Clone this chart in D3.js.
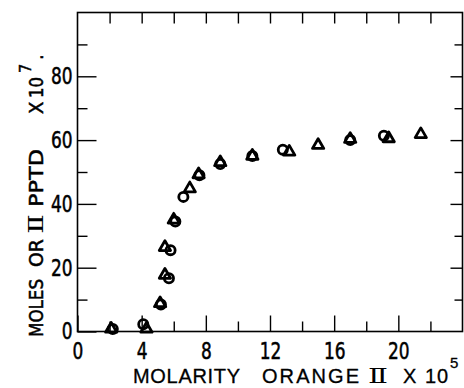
<!DOCTYPE html>
<html><head><meta charset="utf-8">
<script src="https://cdn.jsdelivr.net/npm/d3@7"></script>
<style>
body{margin:0;background:#fff;}
svg{display:block;}
.tick text{font-family:"DejaVu Sans Condensed","DejaVu Sans",sans-serif;font-size:23px;fill:#000;stroke:#000;stroke-width:0.5px;}
</style></head>
<body><svg id="c" width="464" height="388"></svg>
<script>
// Data
const circleX = [2.2, 4.1, 5.2, 5.7, 5.8, 6.1, 6.6, 7.6, 8.9, 10.9, 12.8, 17.0, 19.1];
const circleY = [0.8, 2.3, 8.5, 16.7, 25.5, 34.5, 42.2, 49.0, 52.5, 55.0, 57.0, 60.0, 61.4];
const triX = [2.1, 4.3, 5.15, 5.45, 5.45, 6.0, 7.0, 7.55, 8.9, 10.9, 13.2, 15.0, 17.0, 19.4, 21.4];
const triY = [0.8, 0.8, 8.8, 17.7, 26.4, 35.0, 44.8, 49.2, 53.0, 55.0, 56.3, 58.4, 60.3, 60.5, 61.8];
const xMajor = [0, 4, 8, 12, 16, 20];
const xMinor = [2, 6, 10, 14, 18, 22];
const yMajor = [0, 20, 40, 60, 80];
const yMinor = [10, 30, 50, 70, 90];

const svg = d3.select("#c");
const L = 77.5, R = 462.5, T = 12.5, B = 331.5;
const x = d3.scaleLinear().domain([0, 24]).range([L, R]);
const y = d3.scaleLinear().domain([0, 100]).range([B, T]);
const SX = 0.82;

function style(g){
  g.select(".domain").remove();
  g.selectAll(".tick line").attr("stroke","#000").attr("stroke-width",1.4);
  g.selectAll(".tick text").each(function(){
    const t = d3.select(this);
    const xv = +t.attr("x") || 0;
    t.attr("x", xv/SX).attr("transform", `scale(${SX},1)`);
  });
}

// bottom axis
svg.append("g").attr("transform",`translate(0,${B})`)
  .call(d3.axisBottom(x).tickValues(xMajor).tickSize(-16).tickPadding(11).tickFormat(d3.format("d"))).call(style);
svg.append("g").attr("transform",`translate(0,${B})`)
  .call(d3.axisBottom(x).tickValues(xMinor).tickSize(-10).tickFormat("")).call(style);
// top axis
svg.append("g").attr("transform",`translate(0,${T})`)
  .call(d3.axisTop(x).tickValues(xMajor.concat(xMinor).filter(v=>v>0)).tickSize(-11).tickFormat("")).call(style);
// left axis
svg.append("g").attr("transform",`translate(${L},0)`)
  .call(d3.axisLeft(y).tickValues(yMajor).tickSize(-19).tickPadding(5).tickFormat(d3.format("d"))).call(style);
svg.append("g").attr("transform",`translate(${L},0)`)
  .call(d3.axisLeft(y).tickValues(yMinor).tickSize(-10).tickFormat("")).call(style);
// right axis
svg.append("g").attr("transform",`translate(${R},0)`)
  .call(d3.axisRight(y).tickValues(yMajor.filter(v=>v>0)).tickSize(-12).tickFormat("")).call(style);
svg.append("g").attr("transform",`translate(${R},0)`)
  .call(d3.axisRight(y).tickValues(yMinor).tickSize(-8).tickFormat("")).call(style);

// frame
svg.append("rect").attr("x",L).attr("y",T).attr("width",R-L).attr("height",B-T)
  .attr("fill","none").attr("stroke","#000").attr("stroke-width",1.6);

// markers
const tri = d3.symbol().type(d3.symbolTriangle).size(55);
svg.append("g").selectAll("path").data(triX.map((v,i)=>[v,triY[i]])).join("path")
  .attr("d", tri).attr("transform", d=>`translate(${x(d[0])},${y(d[1])})`)
  .attr("fill","none").attr("stroke","#000").attr("stroke-width",2.8).attr("stroke-linejoin","round");
svg.append("g").selectAll("circle").data(circleX.map((v,i)=>[v,circleY[i]])).join("circle")
  .attr("cx", d=>x(d[0])).attr("cy", d=>y(d[1])).attr("r",4.6)
  .attr("fill","none").attr("stroke","#000").attr("stroke-width",2.8);

// x title
const xt = svg.append("g").attr("font-family","'Liberation Sans','DejaVu Sans',sans-serif").attr("font-size",20).attr("fill","#000").attr("stroke","#000").attr("stroke-width",0.3);
xt.append("text").attr("x",133).attr("y",383).attr("textLength",107).text("MOLARITY");
xt.append("text").attr("x",262).attr("y",383).attr("textLength",97).text("ORANGE");
xt.append("text").attr("x",368).attr("y",383).attr("font-family","'DejaVu Serif',serif").attr("font-size",20)
  .attr("stroke-width",0).attr("font-weight","300")
  .attr("textLength",20).attr("lengthAdjust","spacingAndGlyphs").text("Ⅱ");
xt.append("text").attr("x",403).attr("y",383).text("X");
xt.append("text").attr("x",425).attr("y",383).attr("textLength",23).text("10");
xt.append("text").attr("x",450).attr("y",368).attr("font-size",15).text("5");

// y title (rotated)
const yt = svg.append("g").attr("font-family","'DejaVu Sans Condensed','DejaVu Sans',sans-serif").attr("font-size",20).attr("fill","#000").attr("stroke","#000").attr("stroke-width",0.5);
function ytext(s, y0, len, xb, fs, fam){
  const t = yt.append("text").attr("transform",`translate(${xb},${y0}) rotate(-90)`).text(s);
  if (len) t.attr("textLength",len).attr("lengthAdjust","spacingAndGlyphs");
  if (fs) t.attr("font-size",fs);
  if (fam) t.attr("font-family",fam);
  return t;
}
ytext("MOLES", 337, 58, 43);
ytext("OR", 267, 28, 43);
ytext("Ⅱ", 234, 20, 43, 20, "'DejaVu Serif',serif").attr("stroke-width",0);
ytext("PPTD", 207, 58, 43);
ytext("X", 114, null, 43);
ytext("10", 98, 21, 43);
ytext("7", 73, null, 31, 16);
ytext(".", 60, null, 43);
</script></body></html>
